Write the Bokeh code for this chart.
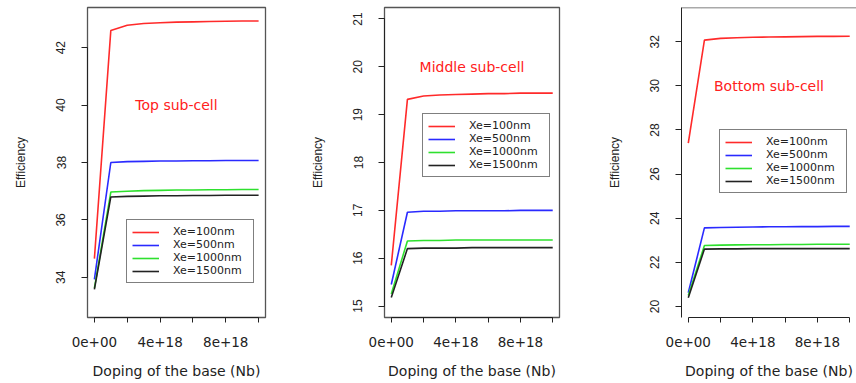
from bokeh.plotting import figure
from bokeh.layouts import row
from bokeh.models import (Legend, LegendItem, FixedTicker, CustomJSTickFormatter,
                          Range1d, Span)
from bokeh.core.properties import value
from bokeh.embed import file_html
from bokeh.resources import INLINE

# ---------------- data ----------------
doping = [0, 1e18, 2e18, 3e18, 4e18, 5e18, 6e18, 7e18, 8e18, 9e18, 1e19]
series_labels = ["Xe=100nm", "Xe=500nm", "Xe=1000nm", "Xe=1500nm"]

top_100 = [34.65, 42.60, 42.78, 42.84, 42.87, 42.89, 42.90, 42.91, 42.92, 42.93, 42.93]
top_500 = [33.93, 38.00, 38.03, 38.04, 38.05, 38.05, 38.06, 38.06, 38.07, 38.07, 38.07]
top_1000 = [33.62, 36.97, 37.00, 37.02, 37.03, 37.04, 37.04, 37.05, 37.05, 37.06, 37.06]
top_1500 = [33.58, 36.80, 36.82, 36.83, 36.84, 36.84, 36.85, 36.85, 36.86, 36.86, 36.86]

mid_100 = [15.85, 19.32, 19.39, 19.41, 19.42, 19.43, 19.44, 19.44, 19.45, 19.45, 19.45]
mid_500 = [15.45, 16.96, 16.98, 16.98, 16.99, 16.99, 16.99, 16.99, 17.00, 17.00, 17.00]
mid_1000 = [15.25, 16.36, 16.37, 16.37, 16.38, 16.38, 16.38, 16.38, 16.38, 16.38, 16.38]
mid_1500 = [15.18, 16.20, 16.21, 16.21, 16.21, 16.22, 16.22, 16.22, 16.22, 16.22, 16.22]

bot_100 = [27.40, 32.07, 32.15, 32.18, 32.20, 32.21, 32.22, 32.23, 32.24, 32.24, 32.25]
bot_500 = [20.62, 23.56, 23.58, 23.59, 23.60, 23.61, 23.61, 23.62, 23.62, 23.63, 23.63]
bot_1000 = [20.50, 22.76, 22.78, 22.79, 22.80, 22.80, 22.81, 22.81, 22.82, 22.82, 22.82]
bot_1500 = [20.40, 22.60, 22.61, 22.61, 22.62, 22.62, 22.62, 22.62, 22.62, 22.62, 22.62]

titles = ["Top sub-cell", "Middle sub-cell", "Bottom sub-cell"]
title_x = [5e18, 5e18, 5e18]
title_y = [40, 20, 30]

y_ticks_top = [34, 36, 38, 40, 42]
y_ticks_mid = [15, 16, 17, 18, 19, 20, 21]
y_ticks_bot = [20, 22, 24, 26, 28, 30, 32]
x_major = [0, 4e18, 8e18]
x_minor = [2e18, 6e18, 1e19]

COLORS = ["#ff2a2a", "#2a2aff", "#2ee02e", "#222222"]


def panel(width, bl, br, yr, yticks, ys, title, tx, ty, leg_loc, last=False):
    p = figure(width=width, height=383, output_backend="svg", toolbar_location=None,
               x_range=Range1d(-0.42e18, 1.042e19), y_range=Range1d(*yr),
               min_border_left=bl, min_border_right=br, min_border_top=7,
               min_border_bottom=66)
    p.background_fill_color = "white"
    p.border_fill_color = "white"
    p.grid.visible = False
    p.outline_line_color = "#555555"
    p.outline_line_width = 1.3
    if last:
        p.outline_line_color = None
        p.add_layout(Span(location=yr[1], dimension="width", line_color="#555555",
                          line_width=1.3))

    items = []
    for lbl, col, yv in zip(series_labels, COLORS, ys):
        r = p.line(doping, yv, line_color=col, line_width=1.6)
        items.append(LegendItem(label=lbl, renderers=[r]))

    p.text(x=[tx], y=[ty], text=[title], text_color="#ff2020",
           text_font=value("DejaVu Sans"), text_font_size="14px",
           text_align="center", text_baseline="middle")

    leg = Legend(items=items, location=leg_loc)
    leg.border_line_color = "black"
    leg.border_line_width = 1
    leg.background_fill_color = "white"
    leg.background_fill_alpha = 1
    leg.padding = 5
    leg.spacing = 0
    leg.margin = 0
    leg.glyph_width = 27
    leg.glyph_height = 12
    leg.label_height = 12
    leg.label_width = 75
    leg.label_standoff = 14
    leg.label_text_font = "DejaVu Sans"
    leg.label_text_font_size = "11px"
    leg.label_text_color = "#222222"
    p.add_layout(leg)

    xa = p.xaxis[0]
    xa.ticker = FixedTicker(ticks=x_major, minor_ticks=x_minor)
    xa.formatter = CustomJSTickFormatter(
        code="if (tick == 0) { return '0e+00'; } return tick.toExponential();")
    xa.bounds = (0, 1e19)
    xa.axis_label = "Doping of the base (Nb)"
    xa.axis_label_text_font = "DejaVu Sans"
    xa.axis_label_text_font_size = "14px"
    xa.axis_label_text_font_style = "normal"
    xa.axis_label_text_color = "#222222"
    xa.axis_label_standoff = 13
    xa.major_label_text_font = "DejaVu Sans"
    xa.major_label_text_font_size = "13.5px"
    xa.major_label_text_color = "#222222"
    xa.major_label_standoff = 14
    xa.major_tick_in = 0
    xa.major_tick_out = 5
    xa.minor_tick_in = 0
    xa.minor_tick_out = 5
    xa.minor_tick_line_color = "#222222"
    xa.major_tick_line_color = "#222222"
    xa.axis_line_color = "#222222"

    ya = p.yaxis[0]
    ya.ticker = FixedTicker(ticks=yticks, minor_ticks=[])
    if not last:
        ya.bounds = (yticks[0], yticks[-1])
    ya.axis_label = "Efficiency"
    ya.axis_label_text_font = "Liberation Sans"
    ya.axis_label_text_font_size = "12px"
    ya.axis_label_text_font_style = "normal"
    ya.axis_label_text_color = "#222222"
    ya.axis_label_standoff = 26
    ya.major_label_orientation = "vertical"
    ya.major_label_text_font = "Liberation Sans"
    ya.major_label_text_font_size = "12px"
    ya.major_label_text_color = "#222222"
    ya.major_label_standoff = 16
    ya.major_tick_in = 0
    ya.major_tick_out = 6
    ya.major_tick_line_color = "#222222"
    ya.axis_line_color = "#222222"
    return p


p1 = panel(290, 87, 25, (32.6, 43.4), y_ticks_top,
           [top_100, top_500, top_1000, top_1500], titles[0], title_x[0], title_y[0],
           (39, 34))
p2 = panel(290, 94, 21, (14.76, 21.24), y_ticks_mid,
           [mid_100, mid_500, mid_1000, mid_1500], titles[1], title_x[1], title_y[1],
           (38, 140))
p3 = panel(276, 101, 0, (19.5, 33.55), y_ticks_bot,
           [bot_100, bot_500, bot_1000, bot_1500], titles[2], title_x[2], title_y[2],
           (38, 124), last=True)

layout = row(p1, p2, p3)
open("out.html", "w").write(file_html(layout, INLINE))
